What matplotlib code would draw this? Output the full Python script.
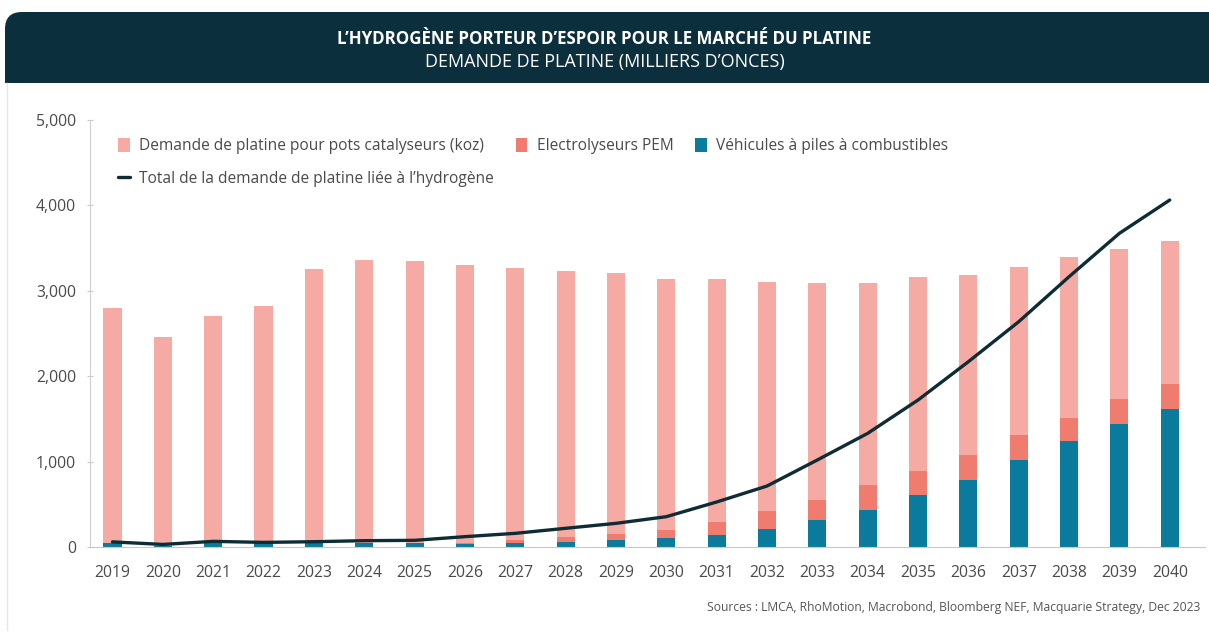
import matplotlib
matplotlib.use("Agg")
import matplotlib.pyplot as plt
from matplotlib.patches import FancyBboxPatch, Rectangle
import numpy as np

years = [str(y) for y in range(2019, 2041)]
# Fuel cell vehicles (koz)
fuel_cells = [45, 15, 45, 45, 45, 45, 45, 30, 45, 55, 78, 109, 144, 211, 316, 437,
              609, 784, 1019, 1241, 1440, 1612]
# PEM electrolysers (koz)
electrolysers = [0, 0, 0, 0, 0, 0, 0, 20, 35, 65, 70, 86, 149, 211, 234, 285,
                 285, 293, 296, 273, 293, 297]
# Top of each bar (koz); autocatalyst demand is stacked on top
bar_total = [2800, 2460, 2700, 2820, 3260, 3360, 3350, 3300, 3270, 3230, 3210, 3140,
             3140, 3100, 3090, 3090, 3160, 3190, 3280, 3390, 3490, 3580]
autocat = [t - f - e for t, f, e in zip(bar_total, fuel_cells, electrolysers)]
# Total hydrogen-related platinum demand (line)
total_h2 = [60, 30, 66, 54, 62, 74, 78, 121, 160, 219, 277, 355, 527, 714, 1019, 1331,
            1721, 2170, 2638, 3165, 3673, 4063]

yticks = [0, 1000, 2000, 3000, 4000, 5000]
ytick_labels = ["0", "1,000", "2,000", "3,000", "4,000", "5,000"]

C_PINK = "#F5ABA4"
C_RED = "#F07B6F"
C_BLUE = "#0A7B9C"
C_LINE = "#0E2C34"
C_HEAD = "#0B2F3C"
C_TXT = "#4a4a4a"

plt.rcParams['font.family'] = ['Open Sans', 'DejaVu Sans']

fig = plt.figure(figsize=(12.09, 6.33), dpi=100)
W, H = 1209, 633

# header band: only the top-left corner is rounded
hx0, hy0, hy1 = 5, 12, 83
hdr = FancyBboxPatch((hx0 / W, 1 - hy1 / H), (W - hx0 + 30) / W, (hy1 - hy0) / H,
                     boxstyle="round,pad=0,rounding_size=0.014",
                     transform=fig.transFigure, facecolor=C_HEAD, edgecolor="none",
                     mutation_aspect=W / H)
fig.patches.append(hdr)
fig.patches.append(Rectangle((hx0 / W, 1 - hy1 / H), 40 / W, 30 / H,
                             transform=fig.transFigure, facecolor=C_HEAD, edgecolor="none"))
fig.patches.append(Rectangle((100 / W, 1 - hy1 / H), (W - 100) / W, (hy1 - hy0) / H,
                             transform=fig.transFigure, facecolor=C_HEAD, edgecolor="none"))
# panel left border
fig.add_artist(plt.Line2D([7 / W, 7 / W], [1 - 83 / H, 1 - 630 / H],
                          transform=fig.transFigure, color="#e6e6e6", lw=1))

fig.text(0.5, 1 - 39 / H, "L’HYDROGÈNE PORTEUR D’ESPOIR POUR LE MARCHÉ DU PLATINE",
         ha="center", va="center", color="white", fontsize=12.2, fontweight="bold")
fig.text(0.5, 1 - 62 / H, "DEMANDE DE PLATINE (MILLIERS D’ONCES)",
         ha="center", va="center", color="white", fontsize=13)

ax = fig.add_axes([90 / W, 1 - 547 / H, (1205 - 90) / W, (547 - 120) / H])
x = np.arange(len(years))
bw = 0.36
ax.bar(x, fuel_cells, bw, color=C_BLUE, label="Véhicules à piles à combustibles", zorder=2)
ax.bar(x, electrolysers, bw, bottom=fuel_cells, color=C_RED, label="Electrolyseurs PEM", zorder=2)
bottom2 = [f + e for f, e in zip(fuel_cells, electrolysers)]
ax.bar(x, autocat, bw, bottom=bottom2, color=C_PINK,
       label="Demande de platine pour pots catalyseurs (koz)", zorder=2)
ax.plot(x, total_h2, color=C_LINE, lw=2.4, zorder=3, solid_capstyle="round",
        label="Total de la demande de platine liée à l’hydrogène")

ax.set_xlim(-0.447, len(years) - 1 + 0.7)
ax.set_ylim(0, 5000)
ax.set_yticks(yticks)
ax.set_yticklabels(ytick_labels)
ax.set_xticks(x)
ax.set_xticklabels(years)
for s in ["top", "right"]:
    ax.spines[s].set_visible(False)
ax.spines["left"].set_color("#cfcfcf")
ax.spines["bottom"].set_color("#c8c8c8")
ax.tick_params(axis="y", length=4, direction="inout", color="#c8c8c8", labelsize=11.3,
               labelcolor=C_TXT, pad=8)
ax.tick_params(axis="x", length=0, labelsize=11.3, labelcolor=C_TXT, pad=13)

h, l = ax.get_legend_handles_labels()
hb = {lab: hh for hh, lab in zip(h, l)}
labs = ["Demande de platine pour pots catalyseurs (koz)",
        "Total de la demande de platine liée à l’hydrogène",
        "Electrolyseurs PEM",
        "Véhicules à piles à combustibles"]
leg = ax.legend([hb[k] for k in labs], labs, ncol=3, loc="upper left",
                bbox_to_anchor=(14 / (1205 - 90), 1 - 4 / 427), frameon=False,
                fontsize=11.2, handlelength=0.75, handleheight=1.0, handletextpad=0.6,
                columnspacing=1.4, labelspacing=1.05, labelcolor=C_TXT)

fig.text(1200 / W, 1 - 607 / H,
         "Sources : LMCA, RhoMotion, Macrobond, Bloomberg NEF, Macquarie Strategy, Dec 2023",
         ha="right", va="center", fontsize=8.7, color="#555555")

fig.savefig("out.png", dpi=100)
